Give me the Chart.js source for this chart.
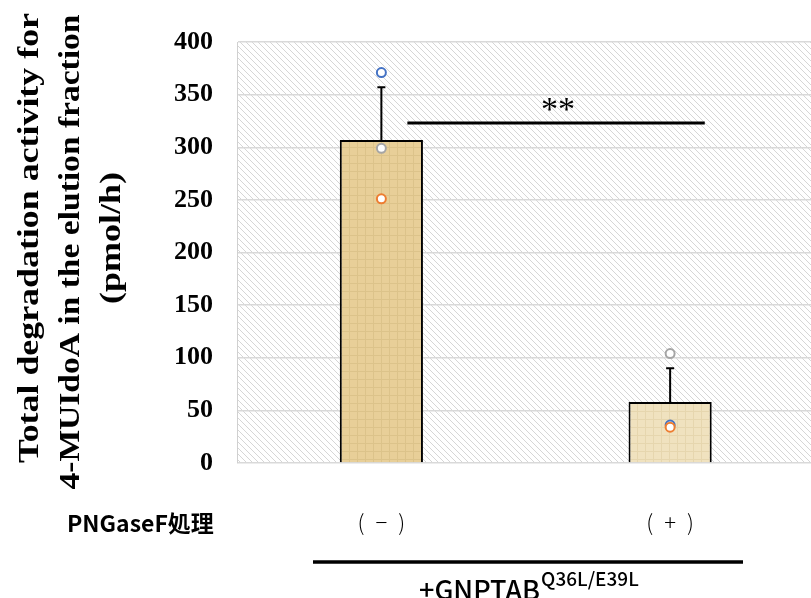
<!DOCTYPE html>
<html>
<head>
<meta charset="utf-8">
<script src="https://cdn.jsdelivr.net/npm/chart.js@4"></script>
<style>
  body { margin: 0; overflow: hidden; background: #fff; }
</style>
</head>
<body>
<canvas id="chart" width="821" height="598"></canvas>
<script>
// data
const categories = ['(\u2002−\u2002)', '(\u2002+\u2002)'];
const means = [307, 58];
const sds = [50, 32];
const blueDots = [371, 36];
const grayDots = [299, 104];
const orangeDots = [251, 34];
const yTicks = [0, 50, 100, 150, 200, 250, 300, 350, 400];
const sigLevel = 323;
const titleLines = ['Total degradation activity for', '4-MUIdoA in the elution fraction', '(pmol/h)'];

function hatch() {
    const c = document.createElement('canvas');
    c.width = 6; c.height = 6;
    const g = c.getContext('2d');
    g.fillStyle = '#fff';
    g.fillRect(0, 0, 6, 6);
    g.strokeStyle = '#d6d6d6';
    g.lineWidth = 1;
    g.beginPath();
    g.moveTo(0, 0); g.lineTo(6, 6);
    g.moveTo(-3, 3); g.lineTo(3, 9);
    g.moveTo(3, -3); g.lineTo(9, 3);
    g.stroke();
    return g.createPattern(c, 'repeat');
}

function paper(base, dark) {
    const c = document.createElement('canvas');
    c.width = 8; c.height = 8;
    const g = c.getContext('2d');
    g.fillStyle = base;
    g.fillRect(0, 0, 8, 8);
    g.fillStyle = dark;
    g.fillRect(0, 3, 8, 1);
    g.fillRect(5, 0, 1, 8);
    return g.createPattern(c, 'repeat');
}

const ctx = document.getElementById('chart').getContext('2d');

const backdrop = {
    id: 'backdrop',
    beforeDraw(chart) {
        const a = chart.chartArea, g = chart.ctx;
        g.save();
        g.fillStyle = hatch();
        g.fillRect(a.left, a.top, a.right - a.left, a.bottom - a.top);
        g.restore();
    }
};

const extras = {
    id: 'extras',
    afterDatasetDraw(chart, args) {
        if (args.index !== 0) return;
        const g = chart.ctx, x = chart.scales.x, y = chart.scales.y;
        g.save();
        g.strokeStyle = '#000';
        g.lineWidth = 2;
        means.forEach((m, i) => {
            const px = x.getPixelForValue(i);
            const top = y.getPixelForValue(m + sds[i]);
            g.beginPath();
            g.moveTo(px, y.getPixelForValue(m));
            g.lineTo(px, top);
            g.moveTo(px - 4, top);
            g.lineTo(px + 4, top);
            g.stroke();
        });
        g.restore();
    },
    afterDraw(chart) {
        const g = chart.ctx, x = chart.scales.x, y = chart.scales.y;
        const step = x.getPixelForValue(1) - x.getPixelForValue(0);
        g.save();
        // y axis title, three rotated lines (second one squeezed a bit)
        g.fillStyle = '#000';
        g.font = 'bold 36px "Liberation Serif"';
        g.textAlign = 'center';
        g.textBaseline = 'alphabetic';
        const fit = [450, 475, 0];
        const mid = [238, 252, 238];
        titleLines.forEach((t, i) => {
            const tw = g.measureText(t).width;
            const sx = fit[i] && tw > fit[i] ? fit[i] / tw : 1;
            g.save();
            g.translate(38 + i * 41, mid[i]);
            g.rotate(-Math.PI / 2);
            g.scale(sx, 0.82);
            g.fillText(t, 0, 0);
            g.restore();
        });

        // significance bar
        const sy = y.getPixelForValue(sigLevel);
        const x1 = x.getPixelForValue(0) + step * 0.09;
        const x2 = x.getPixelForValue(1) + step * 0.12;
        g.strokeStyle = '#000';
        g.lineWidth = 3;
        g.beginPath();
        g.moveTo(x1, sy); g.lineTo(x2, sy); g.stroke();
        g.font = '34px "Liberation Serif"';
        g.textAlign = 'center';
        g.textBaseline = 'middle';
        g.fillText('**', (x1 + x2) / 2 + 2, sy - 12);

        // row label and group bracket
        g.font = 'bold 23px "Noto Sans CJK JP"';
        g.textAlign = 'left';
        g.fillText('PNGaseF処理', 67, 523);
        g.lineWidth = 3.5;
        g.beginPath();
        g.moveTo(313, 562); g.lineTo(743, 562); g.stroke();
        g.textBaseline = 'alphabetic';
        g.font = '500 27px "Noto Sans CJK JP"';
        const main = '+GNPTAB';
        const w = g.measureText(main).width;
        g.fillText(main, 419, 600);
        g.font = '500 19px "Noto Sans CJK JP"';
        g.fillText('Q36L/E39L', 419 + w + 1, 586);
        g.restore();
    }
};

const dot = (label, data, color, order) => ({
    type: 'line',
    label: label,
    data: data,
    showLine: false,
    order: order,
    pointRadius: 4.5,
    pointBorderWidth: 2,
    pointBorderColor: color,
    pointBackgroundColor: '#fff'
});

new Chart(ctx, {
    type: 'bar',
    data: {
        labels: categories,
        datasets: [{
            label: 'mean',
            data: means,
            order: 10,
            backgroundColor: [paper('#e8cf98', '#dcc38a'), paper('#f0e2bf', '#e6d6ae')],
            borderColor: '#000',
            borderWidth: 2,
            categoryPercentage: 1,
            barPercentage: 0.288
        },
        dot('gray', grayDots, '#a5a5a5', 3),
        dot('blue', blueDots, '#4472c4', 2),
        dot('orange', orangeDots, '#ed7d31', 1)]
    },
    options: {
        responsive: false,
        animation: false,
        layout: { padding: { top: 42, right: 0, left: 0, bottom: 0 } },
        plugins: { legend: { display: false }, tooltip: { enabled: false } },
        scales: {
            x: {
                grid: { display: false },
                border: { display: false },
                ticks: { color: '#000', padding: 38, font: { family: '"Noto Sans CJK JP"', weight: 300, size: 22 } },
                afterFit(s) { s.height = 135; s.paddingLeft = 0; s.paddingRight = 0; }
            },
            y: {
                min: 0, max: 400,
                afterBuildTicks(s) { s.ticks = yTicks.map(v => ({ value: v })); },
                grid: { color: '#d9d9d9', lineWidth: 1.5, drawTicks: false },
                border: { color: '#d0d0d0' },
                ticks: { color: '#000', padding: 24, font: { family: 'Liberation Serif', weight: 'bold', size: 26 } },
                afterFit(s) { s.width = 237; s.paddingTop = 0; s.paddingBottom = 0; }
            }
        }
    },
    plugins: [backdrop, extras]
});
</script>
</body>
</html>
